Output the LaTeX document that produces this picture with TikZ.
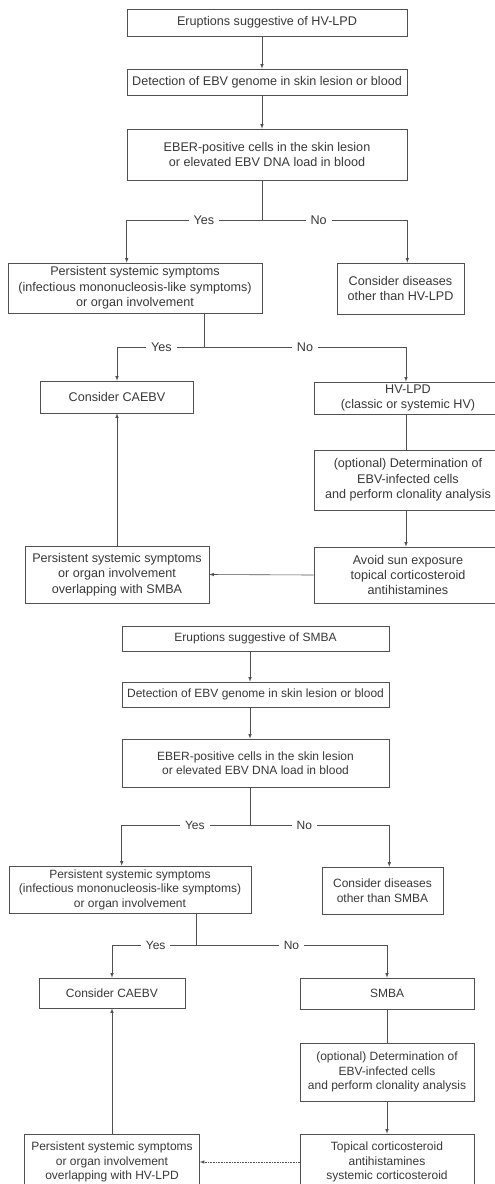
\documentclass[tikz,border=0pt]{standalone}
\usepackage{fontspec}
\setmainfont{Liberation Sans}
\usepackage{tikz}
\usetikzlibrary{calc,shapes,arrows,positioning}
\definecolor{inkgray}{HTML}{383838}
\definecolor{linegray}{HTML}{505050}
\tikzset{
      box/.style      = {draw=linegray, line width=0.6pt, rectangle, align=center, inner sep=0pt, text=inkgray},
      flowedge/.style = {linegray, line width=0.6pt, ->, >=latex},
      flowline/.style = {linegray, line width=0.6pt},
      dotedge/.style  = {linegray, line width=0.6pt, densely dotted, ->, >=latex},
      yesno/.style    = {fill=white, inner xsep=5pt, inner ysep=1pt, text=inkgray},
      topfont/.style  = {font=\fontsize{12.6}{15.3}\selectfont},
      lowfont/.style  = {font=\fontsize{12}{14.6}\selectfont},
    }

\begin{document}
\begin{tikzpicture}[x=1pt,y=-1pt]
    \useasboundingbox (0,0) rectangle (495,1184);
    \begin{scope}[topfont, every node/.append style={topfont}]
        \node [box, minimum width=280, minimum height=27] (e1) at (267,22.5) {Eruptions suggestive of HV-LPD};
        \node [box, minimum width=280, minimum height=26] (d1) at (267,82) {Detection of EBV genome in skin lesion or blood};
        \node [box, minimum width=280, minimum height=51] (b1) at (267,154.5) {EBER-positive cells in the skin lesion\\or elevated EBV DNA load in blood};
        \node [box, minimum width=254, minimum height=50] (p1) at (135,288) {Persistent systemic symptoms\\(infectious mononucleosis-like symptoms)\\or organ involvement};
        \node [box, minimum width=127, minimum height=51] (o1) at (400.5,288.5) {Consider diseases\\other than HV-LPD};
        \node [box, minimum width=153, minimum height=32] (c1) at (117,397) {Consider CAEBV};
        \node [box, minimum width=188, minimum height=32] (h1) at (408,398) {HV-LPD\\(classic or systemic HV)};
        \node [box, minimum width=188, minimum height=60] (opt1) at (408,480) {(optional) Determination of\\EBV-infected cells\\and perform clonality analysis};
        \node [box, minimum width=188, minimum height=56] (av1) at (408,575) {Avoid sun exposure\\topical corticosteroid\\antihistamines};
        \node [box, minimum width=184, minimum height=57] (ov1) at (117,574.5) {Persistent systemic symptoms\\or organ involvement\\overlapping with SMBA};

        \coordinate (s1) at (262,220);
        \coordinate (s2) at (204,347);
        \coordinate (r1) at (406,347);
        \draw [flowedge] (e1.south -| s1) -- (d1.north -| s1);
        \draw [flowedge] (d1.south -| s1) -- (b1.north -| s1);
        \draw [flowline] (b1.south -| s1) -- (s1);
        \draw [flowedge] (s1) -- node [yesno, pos=0.43] {Yes} (s1 -| b1.west) -- (p1.north -| b1.west);
        \draw [flowedge] (s1) -- node [yesno, pos=0.39] {No} (s1 -| b1.east) -- (o1.north -| b1.east);
        \draw [flowline] (p1.south -| s2) -- (s2);
        \draw [flowedge] (s2) -- node [yesno, pos=0.49] {Yes} (s2 -| c1) -- (c1.north);
        \draw [flowedge] (s2) -- node [yesno, pos=0.5] {No} (r1) -- (h1.north -| r1);
        \draw [flowline] (h1.south -| r1) -- (opt1.north -| r1);
        \draw [flowedge] (opt1.south -| r1) -- (av1.north -| r1);
        \draw [flowedge] (av1.west) -- (ov1.east);
        \draw [flowedge] (ov1) -- (c1);
    \end{scope}

    \begin{scope}[lowfont, every node/.append style={lowfont}]
        \node [box, minimum width=267, minimum height=25] (e2) at (255.5,638.5) {Eruptions suggestive of SMBA};
        \node [box, minimum width=267, minimum height=25] (d2) at (255.5,694.5) {Detection of EBV genome in skin lesion or blood};
        \node [box, minimum width=267, minimum height=48] (b2) at (255.5,763) {EBER-positive cells in the skin lesion\\or elevated EBV DNA load in blood};
        \node [box, minimum width=242, minimum height=47] (p2) at (130,889.5) {Persistent systemic symptoms\\(infectious mononucleosis-like symptoms)\\or organ involvement};
        \node [box, minimum width=121, minimum height=47] (o2) at (382.5,890.5) {Consider diseases\\other than SMBA};
        \node [box, minimum width=146, minimum height=30] (c2) at (112,993) {Consider CAEBV};
        \node [box, minimum width=174, minimum height=31] (s2b) at (387,993.5) {SMBA};
        \node [box, minimum width=174, minimum height=58] (opt2) at (387,1072) {(optional) Determination of\\EBV-infected cells\\and perform clonality analysis};
        \node [box, minimum width=174, minimum height=56] (tp2) at (387,1162) {Topical corticosteroid\\antihistamines\\systemic corticosteroid};
        \node [box, minimum width=175, minimum height=56] (ov2) at (112,1162) {Persistent systemic symptoms\\or organ involvement\\overlapping with HV-LPD};

        \coordinate (s3) at (250,825);
        \coordinate (s4) at (196,945);
        \draw [flowedge] (e2.south -| s3) -- (d2.north -| s3);
        \draw [flowedge] (d2.south -| s3) -- (b2.north -| s3);
        \draw [flowline] (b2.south -| s3) -- (s3);
        \draw [flowedge] (s3) -- node [yesno, pos=0.43] {Yes} (s3 -| b2.west) -- (p2.north -| b2.west);
        \draw [flowedge] (s3) -- node [yesno, pos=0.39] {No} (s3 -| b2.east) -- (o2.north -| b2.east);
        \draw [flowline] (p2.south -| s4) -- (s4);
        \draw [flowedge] (s4) -- node [yesno, pos=0.48] {Yes} (s4 -| c2) -- (c2.north);
        \draw [flowedge] (s4) -- node [yesno, pos=0.5] {No} (s4 -| s2b) -- (s2b.north);
        \draw [flowline] (s2b) -- (opt2);
        \draw [flowedge] (opt2) -- (tp2);
        \draw [dotedge] (tp2.west) -- (ov2.east);
        \draw [flowedge] (ov2) -- (c2);
    \end{scope}
\end{tikzpicture}
\end{document}
